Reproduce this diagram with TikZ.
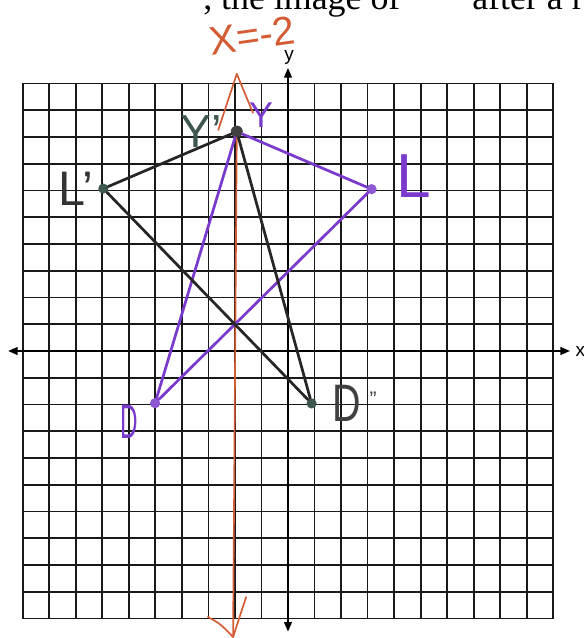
\documentclass[tikz,border=0pt]{standalone}
\usepackage{fontspec}
\setmainfont{Liberation Serif}
\setsansfont{Liberation Sans}
\usetikzlibrary{arrows.meta,positioning}

\definecolor{lilas}{RGB}{122,58,204}
\definecolor{laranja}{RGB}{212,92,52}
\definecolor{musgo}{RGB}{62,88,78}

\begin{document}
\begin{tikzpicture}[
    x=0.8843cm, y=0.8917cm,
    every node/.style={font=\sffamily,inner sep=0pt},
    grade/.style={black!90,line width=1.7pt},
    eixo/.style={line width=1.6pt,{Triangle[length=3.2mm,width=2.6mm]}-{Triangle[length=3.2mm,width=2.6mm]}},
    ponto/.style={circle,minimum size=3.4mm},
    lado/.style={line width=2.6pt,line cap=round},
    espelho/.style={laranja,line width=1.6pt,line cap=round,line join=round},
    rotulo/.style={font=\sffamily\fontsize{#1}{#1}\selectfont},
    rotulo/.default=44
  ]
    \useasboundingbox (-10.856,-10.729) rectangle (11.157,13.121);
    \clip (-10.856,-10.729) rectangle (11.157,13.121);

    % enunciado cortado no alto
    \node[anchor=base west,font=\rmfamily\fontsize{34}{40}\selectfont] (enunciado)
      at (-3.2,12.75) {, the image of};
    \node[anchor=base west,font=\rmfamily\fontsize{34}{40}\selectfont] (enunciadofim)
      at (6.94,12.75) {after a r};

    % malha e eixos
    \draw[grade] (-10,-10) grid[step={(1,1)}] (10,10);
    \draw[eixo] (-10.55,0) -- (10.63,0);
    \draw[eixo] (0,-10.49) -- (0,10.58);
    \node[font=\sffamily\fontsize{18}{18}\selectfont] (rotx) at (11.02,0) {x};
    \node[font=\sffamily\fontsize{18}{18}\selectfont] (roty) at (0.04,10.97) {y};

    % vertices
    \node[ponto,fill=black!75,minimum size=4mm] (Y) at (-1.93,8.2) {};
    \node[ponto,fill=musgo] (Lp) at (-6.96,6.07) {};
    \node[ponto,fill=lilas!85] (L) at (3.15,6.05) {};
    \node[ponto,fill=lilas!85] (D) at (-5.01,-1.95) {};
    \node[ponto,fill=musgo] (Dp) at (0.89,-1.96) {};
    \coordinate (pe) at (-2.07,-10.69);

    % reta x=-2
    \draw[espelho] (Y) -- (pe);
    \draw[espelho] (-2.63,8.26) -- (-1.93,10.36) -- (-1.32,8.9);
    \draw[espelho] (-3.02,-9.94) .. controls (-2.55,-10.2) .. (pe) -- (-1.58,-9.2);

    % triangulos
    \draw[lado,lilas] (Y) -- (L);
    \draw[lado,lilas] (L) -- (D);
    \draw[lado,lilas] (D) -- (Y);
    \draw[lado,black!85] (Y) -- (Lp);
    \draw[lado,black!85] (Lp) -- (Dp);
    \draw[lado,black!85] (Dp) -- (Y);

    % rotulos
    \node[rotulo=38,laranja,rotate=8] (rotreta) at (-1.35,11.78) {X=-2};
    \node[rotulo=44,musgo,left=3mm of Y] (rotYp) {Y'};
    \node[rotulo=34,lilas,above right=0mm and 2.6mm of Y] (rotY) {Y};
    \node[rotulo=46,black!80,left=1.5mm of Lp] (rotLp) {L'};
    \node[rotulo=59,lilas,right=6.5mm of L,yshift=4.3mm] (rotL) {L};
    \node[rotulo=46,lilas,below left=-0.5mm and 4.5mm of D] (rotD)
      {\scalebox{0.5}[1]{D}};
    \node[rotulo=50,black!75,right=5mm of Dp] (rotDp)
      {\scalebox{0.75}[1]{D}\hspace{3mm}\smash{\raisebox{5mm}{\fontsize{20}{20}\selectfont ''}}};
  \end{tikzpicture}
\end{document}
